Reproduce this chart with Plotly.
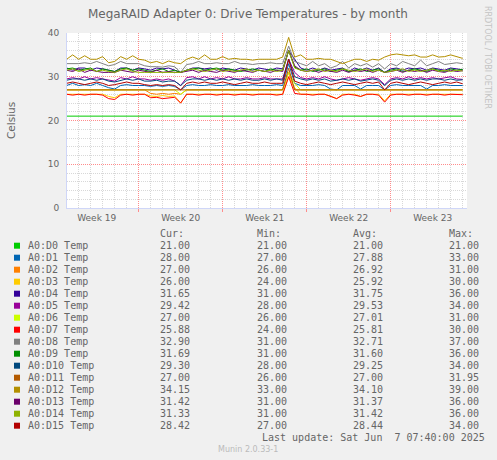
import pandas as pd
import plotly.graph_objects as go

# samples every 12 h from 2025-05-05 00:00 (67 points)
t = pd.date_range('2025-05-05 00:00', periods=67, freq='12h')

d0 = [21.0, 21.0, 21.0, 21.0, 21.0, 21.0, 21.0, 21.0, 21.0, 21.0,
      21.0, 21.0, 21.0, 21.0, 21.0, 21.0, 21.0, 21.0, 21.0, 21.0,
      21.0, 21.0, 21.0, 21.0, 21.0, 21.0, 21.0, 21.0, 21.0, 21.0,
      21.0, 21.0, 21.0, 21.0, 21.0, 21.0, 21.0, 21.0, 21.0, 21.0,
      21.0, 21.0, 21.0, 21.0, 21.0, 21.0, 21.0, 21.0, 21.0, 21.0,
      21.0, 21.0, 21.0, 21.0, 21.0, 21.0, 21.0, 21.0, 21.0, 21.0,
      21.0, 21.0, 21.0, 21.0, 21.0, 21.0, 21.0]
d1 = [28.0, 28.5, 28.0, 28.2, 28.0, 28.5, 28.0, 27.5, 27.2, 28.0,
      28.2, 28.0, 28.0, 28.0, 27.8, 28.0, 27.8, 28.0, 27.8, 27.0,
      28.0, 28.2, 28.0, 28.0, 28.2, 28.0, 28.0, 28.2, 28.0, 28.0,
      28.0, 28.2, 28.0, 28.0, 28.0, 28.2, 28.0, 33.0, 28.5, 28.0,
      28.0, 28.0, 28.2, 28.0, 27.2, 27.0, 28.0, 28.0, 28.0, 27.2,
      28.0, 28.0, 28.0, 27.0, 28.0, 28.2, 28.0, 28.0, 28.0, 28.0,
      27.2, 28.0, 28.0, 28.2, 28.0, 28.0, 28.0]
d2 = [27.0, 27.0, 27.0, 27.0, 27.0, 27.0, 27.0, 27.0, 27.0, 27.0,
      27.0, 27.0, 27.0, 27.0, 26.2, 26.0, 26.2, 26.0, 26.2, 26.0,
      27.0, 27.0, 27.0, 27.0, 27.0, 27.0, 27.0, 27.0, 27.0, 27.0,
      27.0, 27.0, 27.0, 27.0, 27.0, 27.0, 27.0, 31.0, 27.0, 27.0,
      27.0, 27.0, 27.0, 27.0, 27.0, 27.0, 27.0, 27.0, 27.0, 27.0,
      27.0, 27.0, 27.0, 27.0, 27.0, 27.0, 27.0, 27.0, 27.0, 27.0,
      27.0, 27.0, 27.0, 27.0, 27.0, 27.0, 27.0]
d3 = [26.0, 26.0, 26.0, 26.0, 26.0, 26.0, 26.0, 25.5, 25.2, 26.0,
      26.0, 26.0, 26.0, 26.0, 25.6, 25.5, 25.7, 25.5, 25.6, 24.0,
      26.0, 26.0, 26.0, 26.0, 26.0, 26.0, 26.0, 26.0, 26.0, 26.0,
      26.0, 26.0, 26.0, 26.0, 26.0, 26.0, 26.0, 30.0, 27.5, 26.0,
      26.0, 26.0, 26.0, 26.0, 25.6, 25.0, 26.0, 26.0, 26.0, 25.5,
      26.0, 26.0, 26.0, 24.5, 26.0, 26.0, 26.0, 26.0, 26.0, 26.0,
      26.0, 26.0, 26.0, 26.0, 26.0, 26.0, 26.0]
d4 = [32.0, 31.5, 32.0, 32.0, 31.5, 32.0, 31.8, 31.5, 31.2, 32.0,
      32.0, 31.5, 32.0, 31.8, 31.5, 32.0, 31.8, 32.0, 31.5, 31.0,
      31.5, 32.0, 32.0, 31.8, 32.0, 31.5, 32.0, 31.8, 31.5, 32.0,
      31.8, 31.5, 32.0, 31.8, 31.5, 32.0, 31.8, 36.0, 34.0, 32.0,
      31.5, 32.0, 31.5, 32.0, 31.5, 31.8, 32.0, 31.2, 32.0, 31.5,
      32.0, 31.5, 32.0, 31.0, 31.8, 32.0, 31.5, 32.0, 31.8, 32.0,
      31.5, 32.0, 31.8, 31.5, 32.0, 31.8, 31.6]
d5 = [29.5, 29.8, 29.5, 30.0, 29.5, 29.8, 29.5, 29.2, 29.0, 29.8,
      29.5, 30.0, 29.5, 29.5, 29.2, 29.5, 29.2, 29.5, 29.0, 28.0,
      29.8, 30.0, 29.5, 30.0, 29.5, 29.8, 29.5, 30.0, 29.5, 29.5,
      29.8, 29.5, 29.5, 29.8, 29.5, 29.5, 29.5, 34.0, 31.0, 29.8,
      29.5, 29.8, 29.5, 30.0, 29.5, 29.2, 29.5, 29.8, 29.5, 29.2,
      29.5, 29.8, 29.5, 28.2, 29.5, 29.8, 29.5, 30.0, 29.5, 29.8,
      29.5, 29.8, 29.5, 29.8, 30.0, 29.5, 29.4]
d6 = [27.0, 27.0, 27.0, 27.0, 27.0, 27.0, 27.0, 27.0, 27.0, 27.0,
      27.0, 27.0, 27.0, 27.0, 27.0, 27.0, 27.0, 27.0, 27.0, 26.0,
      27.0, 27.0, 27.0, 27.0, 27.0, 27.0, 27.0, 27.0, 27.0, 27.0,
      27.0, 27.0, 27.0, 27.0, 27.0, 27.0, 27.0, 31.0, 28.5, 27.0,
      27.0, 27.0, 27.0, 27.0, 27.0, 27.0, 27.0, 27.0, 27.0, 27.0,
      27.0, 27.0, 27.0, 27.0, 27.0, 27.0, 27.0, 27.0, 27.0, 27.0,
      27.0, 27.0, 27.0, 27.0, 27.0, 27.0, 27.0]
d7 = [26.0, 25.8, 26.0, 25.8, 26.0, 26.0, 25.8, 25.0, 24.8, 25.8,
      26.0, 25.8, 26.0, 26.0, 25.2, 25.3, 25.0, 25.2, 25.3, 24.0,
      26.0, 26.0, 25.8, 26.0, 26.0, 25.8, 26.0, 26.0, 25.8, 26.0,
      26.0, 25.8, 26.0, 26.0, 26.0, 25.8, 26.0, 30.0, 26.2, 26.0,
      26.0, 25.8, 26.0, 26.0, 25.5, 25.0, 25.8, 26.0, 25.8, 25.5,
      26.0, 26.0, 25.8, 24.2, 25.8, 26.0, 26.0, 25.8, 26.0, 26.0,
      25.8, 26.0, 26.0, 25.8, 26.0, 26.0, 25.9]
d8 = [33.0, 33.0, 33.0, 33.2, 33.0, 33.5, 33.0, 32.5, 32.8, 33.5,
      33.0, 33.0, 33.0, 32.5, 32.3, 32.3, 32.2, 32.5, 32.3, 31.0,
      32.8, 33.0, 33.5, 33.0, 33.0, 33.2, 33.0, 33.0, 33.5, 33.0,
      33.0, 32.8, 33.0, 33.0, 33.2, 33.0, 33.0, 37.0, 33.5, 33.0,
      32.5, 33.5, 32.5, 33.0, 32.0, 32.5, 33.5, 32.0, 33.0, 32.5,
      33.0, 32.2, 33.0, 31.8, 33.0, 32.5, 33.5, 33.0, 32.5, 33.8,
      32.5, 33.0, 33.5, 32.8, 33.0, 33.2, 33.0]
d9 = [31.8, 32.0, 31.5, 31.8, 32.0, 31.2, 31.8, 31.5, 31.2, 31.8,
      32.0, 31.5, 31.8, 31.5, 31.2, 31.5, 31.8, 31.2, 31.5, 31.0,
      31.5, 31.8, 32.0, 31.5, 31.8, 32.0, 31.5, 31.8, 31.5, 31.2,
      31.5, 31.8, 31.5, 31.2, 31.8, 31.5, 31.5, 36.0, 32.2, 31.5,
      31.8, 31.2, 31.5, 31.8, 31.2, 31.5, 31.8, 31.2, 31.5, 31.8,
      31.2, 31.5, 31.8, 31.0, 31.5, 31.8, 31.2, 31.5, 31.8, 31.5,
      31.2, 31.8, 31.5, 31.2, 31.8, 31.5, 31.7]
d10 = [29.2, 29.5, 29.5, 29.2, 29.5, 29.2, 29.5, 29.0, 28.8, 29.2,
       29.5, 29.2, 29.5, 29.0, 29.0, 29.2, 28.8, 29.0, 29.0, 28.0,
       29.2, 29.5, 29.5, 29.2, 29.5, 29.2, 29.5, 29.2, 29.5, 29.2,
       29.5, 29.2, 29.2, 29.5, 29.2, 29.5, 29.2, 34.0, 30.0, 29.5,
       29.2, 29.5, 29.2, 29.5, 29.0, 29.2, 29.5, 29.2, 29.5, 29.0,
       29.2, 29.5, 29.2, 28.0, 29.2, 29.5, 29.2, 29.5, 29.2, 29.5,
       29.2, 29.5, 29.5, 29.2, 29.5, 29.2, 29.3]
d11 = [27.0, 27.0, 27.0, 27.0, 27.0, 27.0, 27.0, 27.0, 27.0, 27.0,
       27.0, 27.0, 27.0, 27.0, 27.0, 27.0, 27.0, 27.0, 27.0, 27.0,
       27.0, 27.0, 27.0, 27.0, 27.0, 27.0, 27.0, 27.0, 27.0, 27.0,
       27.0, 27.0, 27.0, 27.0, 27.0, 27.0, 27.0, 31.95, 27.0, 27.0,
       27.0, 27.0, 27.0, 27.0, 27.0, 27.0, 27.0, 27.0, 27.0, 27.0,
       27.0, 27.0, 27.0, 27.0, 27.0, 27.0, 27.0, 27.0, 27.0, 27.0,
       27.0, 27.0, 27.0, 27.0, 27.0, 27.0, 27.0]
d12 = [34.0, 35.0, 34.0, 34.8, 34.0, 34.0, 34.6, 33.2, 33.5, 34.6,
       34.0, 34.8, 34.0, 33.8, 33.2, 33.5, 33.0, 33.6, 33.2, 33.0,
       34.0, 34.5, 34.0, 35.0, 34.0, 34.0, 34.6, 34.0, 34.2, 34.0,
       34.0, 33.8, 34.0, 34.0, 34.0, 34.0, 34.5, 39.0, 34.5, 35.0,
       34.0, 34.0, 34.2, 34.0, 34.0, 33.5, 33.0, 33.5, 34.0, 34.0,
       33.5, 34.0, 33.8, 34.5, 35.0, 35.2, 35.0, 34.8, 35.0, 34.5,
       34.5, 35.0, 34.5, 34.6, 35.0, 34.6, 34.2]
d13 = [31.5, 31.2, 31.8, 31.0, 31.5, 31.2, 31.0, 31.0, 31.0, 31.5,
       31.2, 31.0, 31.5, 31.2, 31.0, 31.5, 31.0, 31.2, 31.0, 31.0,
       31.2, 31.5, 31.0, 31.5, 31.2, 31.0, 31.5, 31.2, 31.0, 31.5,
       31.2, 31.0, 31.5, 31.2, 31.0, 31.5, 31.2, 36.0, 32.5, 31.5,
       31.2, 31.5, 31.0, 31.5, 31.2, 31.0, 31.5, 31.0, 31.5, 31.2,
       31.5, 31.0, 31.5, 31.0, 31.2, 31.5, 31.0, 31.5, 31.2, 31.5,
       31.0, 31.5, 31.2, 31.0, 31.5, 31.2, 31.4]
d14 = [31.5, 31.8, 31.2, 31.5, 31.8, 31.2, 31.5, 31.2, 31.0, 31.5,
       31.8, 31.2, 31.0, 31.0, 31.0, 31.0, 31.0, 31.0, 31.0, 31.0,
       31.5, 31.8, 31.5, 31.2, 31.5, 31.8, 31.2, 31.5, 31.2, 31.5,
       31.8, 31.2, 31.5, 31.2, 31.5, 31.2, 31.5, 36.0, 32.0, 31.5,
       31.2, 31.5, 31.8, 31.2, 31.5, 31.2, 31.8, 31.5, 31.2, 31.5,
       31.8, 31.2, 31.5, 31.0, 31.2, 31.5, 31.8, 31.2, 31.5, 31.2,
       31.5, 31.8, 31.2, 31.5, 31.2, 31.5, 31.3]
d15 = [28.5, 28.8, 28.5, 28.2, 28.5, 28.8, 28.5, 28.0, 28.2, 28.5,
       28.8, 28.5, 28.5, 28.2, 28.0, 28.2, 28.0, 28.2, 28.0, 27.0,
       28.5, 28.8, 28.5, 28.8, 28.5, 28.5, 28.8, 28.5, 28.2, 28.5,
       28.8, 28.5, 28.5, 28.8, 28.5, 28.5, 28.5, 34.0, 29.0, 28.5,
       28.2, 28.5, 28.8, 28.5, 28.2, 28.5, 28.8, 28.5, 28.2, 28.5,
       28.8, 28.5, 28.8, 27.0, 28.5, 28.8, 28.5, 28.2, 28.5, 28.8,
       28.5, 28.2, 28.5, 28.8, 28.5, 28.8, 28.4]

nomes = ['A0:D0 Temp', 'A0:D1 Temp', 'A0:D2 Temp', 'A0:D3 Temp', 'A0:D4 Temp', 'A0:D5 Temp',
         'A0:D6 Temp', 'A0:D7 Temp', 'A0:D8 Temp', 'A0:D9 Temp', 'A0:D10 Temp', 'A0:D11 Temp',
         'A0:D12 Temp', 'A0:D13 Temp', 'A0:D14 Temp', 'A0:D15 Temp']
cores = ['#00CC00', '#0066B3', '#FF8000', '#FFCC00', '#330099', '#990099', '#CCFF00', '#FF0000',
         '#808080', '#008F00', '#00487D', '#B35A00', '#B38F00', '#6B006B', '#8FB300', '#B30000']
cur = [21.00, 28.00, 27.00, 26.00, 31.65, 29.42, 27.00, 25.88, 32.90, 31.69, 29.30, 27.00, 34.15, 31.42, 31.33, 28.42]
vmin = [21.00, 27.00, 26.00, 24.00, 31.00, 28.00, 26.00, 24.00, 31.00, 31.00, 28.00, 26.00, 33.00, 31.00, 31.00, 27.00]
avg = [21.00, 27.88, 26.92, 25.92, 31.75, 29.53, 27.01, 25.81, 32.71, 31.60, 29.25, 27.00, 34.10, 31.37, 31.42, 28.44]
vmax = [21.00, 33.00, 31.00, 30.00, 36.00, 34.00, 31.00, 30.00, 37.00, 36.00, 34.00, 31.95, 39.00, 36.00, 36.00, 34.00]

semanas = ['2025-05-11', '2025-05-18', '2025-05-25', '2025-06-01']
rotulos_x = ['2025-05-07 12:00', '2025-05-14 12:00', '2025-05-21 12:00', '2025-05-28 12:00', '2025-06-04 12:00']
texto_x = ['Week 19', 'Week 20', 'Week 21', 'Week 22', 'Week 23']
y_maior = [0, 10, 20, 30, 40]

series = [d0, d1, d2, d3, d4, d5, d6, d7, d8, d9, d10, d11, d12, d13, d14, d15]

inicio = '2025-05-05 00:40'
fim = '2025-06-07 08:40'

# grade fina: todo dia / a cada 2 graus, sem repetir as linhas da grade maior
dias = [d for d in pd.date_range('2025-05-05', '2025-06-08', freq='D') if d.dayofweek != 6]
y_menor = [v for v in range(0, 41, 2) if v % 10 != 0]

W, H = 497, 460
L, R, T, B = 67, 30, 33, 252
cinza = '#666666'

def pp(x, y):
    # pixel -> paper
    return (x - L) / (W - L - R), (H - B - y) / (H - T - B)

fig = go.Figure()
for nome, cor, s in zip(nomes, cores, series):
    fig.add_trace(go.Scatter(x=t, y=s, name=nome, mode='lines', line=dict(color=cor, width=1),
                             showlegend=False))
# eixo so pros rotulos das semanas
fig.add_trace(go.Scatter(x=rotulos_x, y=[None] * 5, xaxis='x2', showlegend=False, hoverinfo='skip'))

grade = '#d8d8d8'
grade_m = '#ff8c8c'
fig.update_layout(
    width=W, height=H, autosize=False,
    margin=dict(l=L, r=R, t=T, b=B),
    paper_bgcolor='#F0F0F0', plot_bgcolor='#FFFFFF',
    font=dict(family='DejaVu Sans', color=cinza),
    xaxis=dict(type='date', range=[inicio, fim], tickmode='array', tickvals=semanas,
               showticklabels=False, showgrid=True, gridcolor=grade_m, griddash='1px,1px', gridwidth=1,
               ticks='outside', ticklen=3, tickcolor=grade_m,
               minor=dict(tickmode='array', tickvals=dias, showgrid=True, gridcolor=grade,
                          griddash='1px,1px', ticks=''),
               showline=True, linecolor='#CFD6F8', zeroline=False, fixedrange=True),
    xaxis2=dict(type='date', range=[inicio, fim], overlaying='x', anchor='y', side='bottom',
                tickmode='array', tickvals=rotulos_x, ticktext=texto_x, showgrid=False, ticks='',
                tickfont=dict(size=9, color=cinza), ticklabelstandoff=3, showline=False, zeroline=False),
    yaxis=dict(range=[0, 40], tickmode='array', tickvals=y_maior, showgrid=True,
               gridcolor=grade_m, griddash='1px,1px', gridwidth=1, ticks='',
               minor=dict(tickmode='array', tickvals=y_menor, showgrid=True, gridcolor=grade,
                          griddash='1px,1px', ticks=''),
               tickfont=dict(size=9, color=cinza), ticklabelstandoff=5,
               showline=True, linecolor='#CFD6F8', zeroline=False, fixedrange=True),
)

anots = []
def texto(x, y, s, size=10, cor=cinza, fam='DejaVu Sans Mono', xanchor='left', ang=0):
    px_, py_ = pp(x, y)
    anots.append(dict(x=px_, y=py_, xref='paper', yref='paper', text=s, showarrow=False,
                      xanchor=xanchor, yanchor='middle', borderpad=0, textangle=ang,
                      font=dict(family=fam, size=size, color=cor)))

texto(248, 14, 'MegaRAID Adapter 0: Drive Temperatures - by month', size=12, fam='DejaVu Sans', xanchor='center')
texto(11, 120, 'Celsius', size=10.5, fam='DejaVu Sans', xanchor='center', ang=-90)
texto(488, 57, 'RRDTOOL / TOBI OETIKER', size=8, cor='#C4C4C4', fam='DejaVu Sans', xanchor='center', ang=90)

cols = [158.7, 255.7, 352, 447.7]
for x, h in zip(cols, ['Cur:', 'Min:', 'Avg:', 'Max:']):
    texto(x, 233.7, h)

formas = []
for k in range(16):
    y = 245.7 + 12 * k
    texto(26.7, y, nomes[k])
    for x, v in zip(cols, [cur[k], vmin[k], avg[k], vmax[k]]):
        texto(x, y, f'{v:.2f}')
    x0, y0 = pp(14, y - 3)
    x1, y1 = pp(20, y + 3)
    formas.append(dict(type='rect', xref='paper', yref='paper', x0=x0, x1=x1, y0=y0, y1=y1,
                       fillcolor=cores[k], line=dict(width=0)))

texto(261.3, 437.7, 'Last update: Sat Jun \u00a07 07:40:00 2025')
texto(248, 449, 'Munin 2.0.33-1', size=8, cor='#BBBBBB', fam='DejaVu Sans', xanchor='center')

fig.update_layout(annotations=anots, shapes=formas)
fig.write_html('out.html', config={'displayModeBar': False},
               post_script="document.body.style.margin='0px';")
